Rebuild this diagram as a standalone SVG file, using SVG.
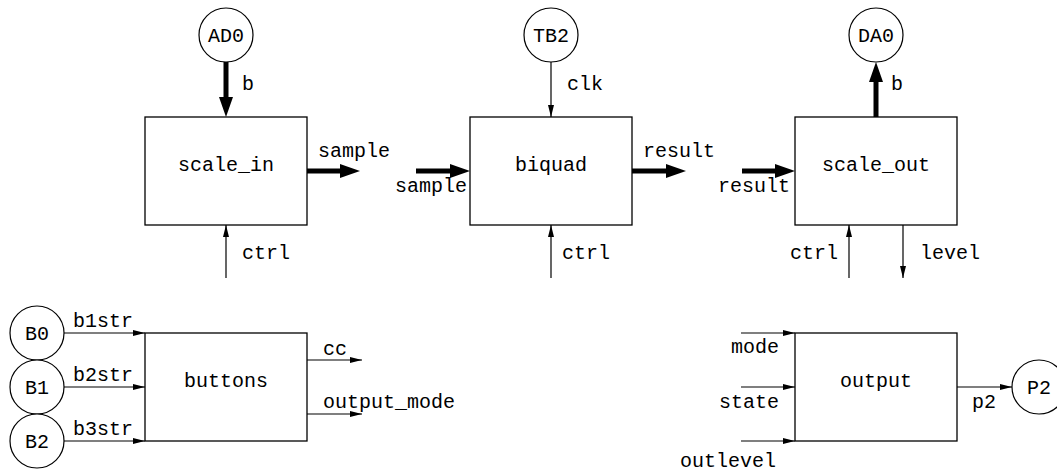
<svg xmlns="http://www.w3.org/2000/svg" width="1057" height="475" viewBox="0 0 1057 475">
<style>
text{font-family:"Liberation Mono","Courier New",monospace;font-size:20px;fill:#000}
.box{fill:#fff;stroke:#000;stroke-width:1.3}
.circ{fill:#fff;stroke:#000;stroke-width:1.2}
.c{text-anchor:middle}
.e{text-anchor:end}
.thin{stroke:#000;stroke-width:1.2;fill:none;marker-end:url(#ah)}
.thick{stroke:#000;stroke-width:5;fill:none;marker-end:url(#ahb)}
</style>
<defs>
<marker id="ah" markerUnits="userSpaceOnUse" markerWidth="12" markerHeight="6" refX="12" refY="3" orient="auto"><path d="M0,0 L12,3 L0,6 z" fill="#000"/></marker>
<marker id="ahb" markerUnits="userSpaceOnUse" markerWidth="20" markerHeight="14" refX="2" refY="7" orient="auto"><path d="M0,0 L20,7 L0,14 z" fill="#000"/></marker>
</defs>
<rect width="1057" height="475" fill="#fff"/>
<g id="connectors">
<line class="thick" x1="226" y1="62" x2="226" y2="99"/>
<line class="thick" x1="307" y1="171" x2="342" y2="171"/>
<line class="thick" x1="416" y1="171" x2="452" y2="171"/>
<line class="thick" x1="632" y1="171" x2="668" y2="171"/>
<line class="thick" x1="742" y1="171" x2="777" y2="171"/>
<line class="thick" x1="876" y1="117" x2="876" y2="80"/>
<line class="thin" x1="551" y1="62" x2="551" y2="117"/>
<line class="thin" x1="226" y1="278" x2="226" y2="225"/>
<line class="thin" x1="551" y1="278" x2="551" y2="225"/>
<line class="thin" x1="849" y1="278" x2="849" y2="225"/>
<line class="thin" x1="903" y1="225" x2="903" y2="278"/>
<line class="thin" x1="64" y1="333" x2="145" y2="333"/>
<line class="thin" x1="64" y1="387" x2="145" y2="387"/>
<line class="thin" x1="64" y1="441" x2="145" y2="441"/>
<line class="thin" x1="307" y1="360" x2="362" y2="360"/>
<line class="thin" x1="307" y1="414" x2="362" y2="414"/>
<line class="thin" x1="741" y1="333" x2="795" y2="333"/>
<line class="thin" x1="741" y1="387" x2="795" y2="387"/>
<line class="thin" x1="741" y1="441" x2="795" y2="441"/>
<line class="thin" x1="957" y1="387" x2="1012" y2="387"/>
<text x="242" y="90">b</text>
<text x="318" y="157">sample</text>
<text x="242" y="259">ctrl</text>
<text x="567" y="90">clk</text>
<text class="e" x="467" y="192">sample</text>
<text x="643" y="157">result</text>
<text x="562" y="259">ctrl</text>
<text x="891" y="90">b</text>
<text class="e" x="790" y="192">result</text>
<text class="e" x="838" y="259">ctrl</text>
<text x="920" y="259">level</text>
<text x="73" y="327">b1str</text>
<text x="73" y="381">b2str</text>
<text x="73" y="435">b3str</text>
<text x="323" y="355">cc</text>
<text x="323" y="408">output_mode</text>
<text class="e" x="779" y="353">mode</text>
<text class="e" x="779" y="408">state</text>
<text class="e" x="776" y="467">outlevel</text>
<text x="972" y="408">p2</text>
</g>
<g id="scale_in"><rect class="box" x="145" y="117" width="162" height="108"/><text class="c" x="226" y="171">scale_in</text></g>
<g id="biquad"><rect class="box" x="470" y="117" width="162" height="108"/><text class="c" x="551" y="171">biquad</text></g>
<g id="scale_out"><rect class="box" x="795" y="117" width="162" height="108"/><text class="c" x="876" y="171">scale_out</text></g>
<g id="buttons"><rect class="box" x="145" y="333" width="162" height="108"/><text class="c" x="226" y="387">buttons</text></g>
<g id="output"><rect class="box" x="795" y="333" width="162" height="108"/><text class="c" x="876" y="387">output</text></g>
<g id="AD0"><circle class="circ" cx="226" cy="35" r="27"/><text class="c" x="226" y="42">AD0</text></g>
<g id="TB2"><circle class="circ" cx="551" cy="35" r="27"/><text class="c" x="551" y="42">TB2</text></g>
<g id="DA0"><circle class="circ" cx="876" cy="35" r="27"/><text class="c" x="876" y="42">DA0</text></g>
<g id="B0"><circle class="circ" cx="37" cy="333" r="27"/><text class="c" x="37" y="340">B0</text></g>
<g id="B1"><circle class="circ" cx="37" cy="387" r="27"/><text class="c" x="37" y="394">B1</text></g>
<g id="B2"><circle class="circ" cx="37" cy="441" r="27"/><text class="c" x="37" y="448">B2</text></g>
<g id="P2"><circle class="circ" cx="1039" cy="387" r="27"/><text class="c" x="1039" y="394">P2</text></g>
</svg>
